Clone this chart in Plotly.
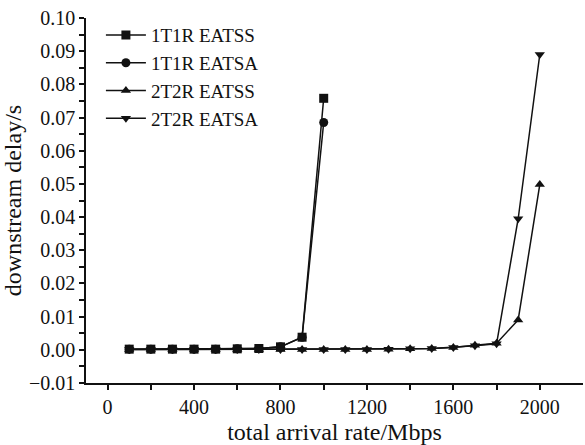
import plotly.graph_objects as go

x1 = [100, 200, 300, 400, 500, 600, 700, 800, 900, 1000]
t1_ss = [0.0002, 0.0002, 0.0002, 0.0002, 0.0002, 0.0003, 0.0004, 0.0009, 0.0038, 0.0758]
t1_sa = [0.0002, 0.0002, 0.0002, 0.0002, 0.0002, 0.0003, 0.0004, 0.0009, 0.0038, 0.0685]
x2 = [100, 200, 300, 400, 500, 600, 700, 800, 900, 1000, 1100, 1200, 1300, 1400, 1500, 1600, 1700, 1800, 1900, 2000]
t2_ss = [0.0001, 0.0001, 0.0001, 0.0001, 0.0001, 0.0001, 0.0001, 0.0001, 0.0001, 0.0001,
         0.0001, 0.0001, 0.0002, 0.0003, 0.0004, 0.0007, 0.0014, 0.0020, 0.0090, 0.0498]
t2_sa = [0.0001, 0.0001, 0.0001, 0.0001, 0.0001, 0.0001, 0.0001, 0.0001, 0.0001, 0.0001,
         0.0001, 0.0001, 0.0002, 0.0003, 0.0004, 0.0007, 0.0012, 0.0018, 0.0395, 0.0890]
names = ["1T1R EATSS", "1T1R EATSA", "2T2R EATSS", "2T2R EATSA"]
symbols = ["square", "circle", "triangle-up", "triangle-down"]

x_ticks = [0, 200, 400, 600, 800, 1000, 1200, 1400, 1600, 1800, 2000]
x_labels = ["0", "", "400", "", "800", "", "1200", "", "1600", "", "2000"]
y_ticks = [-0.01, -0.005, 0.0, 0.005, 0.01, 0.015, 0.02, 0.025, 0.03, 0.035, 0.04, 0.045,
           0.05, 0.055, 0.06, 0.065, 0.07, 0.075, 0.08, 0.085, 0.09, 0.095, 0.10]
y_labels = ["\u22120.01", "", "0.00", "", "0.01", "", "0.02", "", "0.03", "", "0.04", "",
            "0.05", "", "0.06", "", "0.07", "", "0.08", "", "0.09", "", "0.10"]

FAM = "Liberation Serif, Times New Roman, serif"
INK = "#111111"

fig = go.Figure()
for xs, ys, nm, sym in zip([x1, x1, x2, x2], [t1_ss, t1_sa, t2_ss, t2_sa], names, symbols):
    fig.add_trace(go.Scatter(x=xs, y=ys, name=nm, mode="lines+markers",
                             line=dict(color=INK, width=1.5),
                             marker=dict(symbol=sym, size=9, color=INK)))

fig.update_layout(
    width=585, height=445,
    margin=dict(l=86, r=2, t=18, b=62),
    paper_bgcolor="white", plot_bgcolor="white",
    font=dict(family=FAM, size=20, color=INK),
    showlegend=True,
    legend=dict(x=0.03, y=1.005, xanchor="left", yanchor="top", bgcolor="rgba(0,0,0,0)",
                font=dict(family=FAM, size=19, color=INK), tracegroupgap=0, itemwidth=40),
    xaxis=dict(range=[-100, 2200], tickvals=x_ticks, ticktext=x_labels,
               ticks="outside", ticklen=5, tickwidth=1.5, tickcolor=INK,
               showgrid=False, zeroline=False, automargin=False,
               showline=True, linecolor=INK, linewidth=1.5,
               title=dict(text="total arrival rate/Mbps", standoff=8)),
    yaxis=dict(range=[-0.01, 0.10], tickvals=y_ticks, ticktext=y_labels,
               ticks="outside", ticklen=5, tickwidth=1.5, tickcolor=INK,
               showgrid=False, zeroline=False, automargin=False,
               showline=True, linecolor=INK, linewidth=1.5,
               title=dict(text="downstream delay/s", standoff=2)),
)
fig.write_html("out.html", config={"displayModeBar": False},
               post_script="document.body.style.margin='0';")
